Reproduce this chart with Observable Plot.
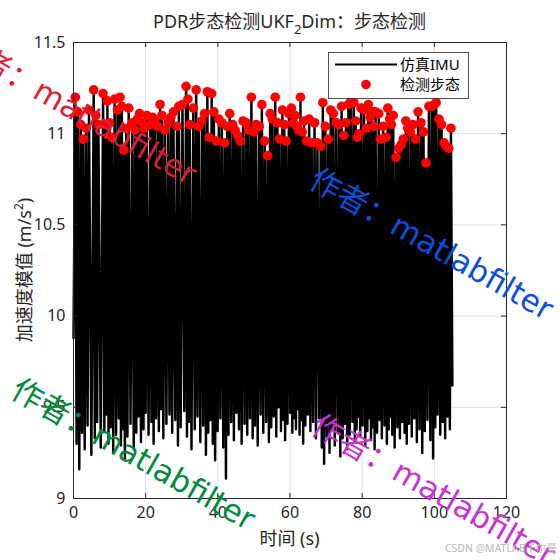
<!DOCTYPE html>
<html><head><meta charset="utf-8">
<script src="https://cdn.jsdelivr.net/npm/d3@7"></script>
<script src="https://cdn.jsdelivr.net/npm/@observablehq/plot@0.6"></script>
<style>body{margin:0;background:#fff}#chart{width:560px;height:560px}</style>
</head><body><div id="chart"></div>
<script>
// detected steps (peak time, peak acceleration magnitude)
const stepTime = [0.5,1.2,2.0,2.7,3.5,4.3,5.6,6.2,6.9,8.2,
8.9,9.4,10.0,10.6,11.4,12.2,12.9,13.4,13.9,14.6,
15.3,16.3,17.1,17.7,18.3,19.1,19.7,20.3,21.3,21.9,
22.5,23.3,24.0,24.5,25.3,26.2,27.0,27.7,28.7,29.2,
30.2,31.2,31.7,32.2,33.2,34.0,34.7,35.6,36.3,37.1,
37.6,38.3,38.9,39.6,40.3,41.1,41.9,42.6,43.3,44.1,
44.8,45.5,46.2,47.0,47.8,48.5,49.3,50.0,50.6,51.5,
52.2,53.0,53.8,54.5,55.1,55.9,56.5,57.1,57.9,58.4,
58.9,59.7,60.4,60.9,61.4,61.9,62.4,62.9,63.4,63.9,
64.6,65.3,66.0,66.8,67.6,68.5,69.1,69.8,70.6,71.3,
72.0,72.8,73.6,74.3,74.9,75.5,76.2,76.9,77.7,78.2,
78.7,79.2,79.7,80.5,81.2,81.7,82.2,82.7,83.2,83.7,
84.6,85.1,85.8,86.6,87.1,87.6,88.1,88.6,89.4,90.1,
90.8,91.4,92.1,92.6,93.4,94.1,94.8,95.5,96.3,97.0,
97.7,98.5,99.3,100.0,100.5,101.3,102.0,102.7,103.3,104.0,
104.6];
const stepPeak = [11.20,11.12,11.05,10.97,11.03,11.13,11.24,11.10,11.05,11.22,
11.05,11.18,11.06,10.98,11.19,11.13,11.20,11.15,10.91,11.03,
11.14,11.06,11.02,11.08,11.11,11.06,11.03,11.10,11.05,11.09,
11.07,11.04,11.16,11.10,11.02,11.06,11.09,11.12,11.04,11.15,
11.16,11.26,11.19,11.05,11.14,11.24,11.04,11.07,11.11,11.23,
10.98,11.22,11.12,10.96,11.08,11.06,10.95,11.04,11.11,11.05,
11.02,10.99,10.96,11.07,11.06,11.02,11.20,11.01,11.05,11.04,
11.16,10.96,10.88,11.11,11.08,11.20,11.06,10.97,11.13,11.05,
10.96,11.11,11.14,11.06,11.10,11.04,11.02,11.20,11.01,11.07,
10.96,11.08,10.95,11.06,10.95,10.93,11.17,11.04,10.97,11.13,
11.11,11.06,11.05,11.15,10.99,11.06,11.16,11.18,11.17,11.07,
10.98,11.00,11.14,11.13,11.03,11.16,11.09,11.12,11.04,11.12,
11.11,10.97,11.04,10.98,11.14,11.08,11.05,11.10,10.87,10.92,
10.94,10.97,11.07,11.03,11.01,11.05,10.97,11.12,11.06,11.01,
10.84,11.15,11.15,11.16,11.17,11.08,11.05,10.95,10.93,10.92,
11.03];
// simulated IMU troughs between steps
const troughTime = [0.0,0.85,1.6,2.35,3.1,3.9,4.95,5.9,6.55,7.55,
8.55,9.15,9.7,10.3,11.0,11.8,12.55,13.15,13.65,14.25,
14.95,15.8,16.7,17.4,18.0,18.7,19.4,20.0,20.8,21.6,
22.2,22.9,23.65,24.25,24.9,25.75,26.6,27.35,28.2,28.95,
29.7,30.7,31.45,31.95,32.7,33.6,34.35,35.15,35.95,36.7,
37.35,37.95,38.6,39.25,39.95,40.7,41.5,42.25,42.95,43.7,
44.45,45.15,45.85,46.6,47.4,48.15,48.9,49.65,50.3,51.05,
51.85,52.6,53.4,54.15,54.8,55.5,56.2,56.8,57.5,58.15,
58.65,59.3,60.05,60.65,61.15,61.65,62.15,62.65,63.15,63.65,
64.25,64.95,65.65,66.4,67.2,68.05,68.8,69.45,70.2,70.95,
71.65,72.4,73.2,73.95,74.6,75.2,75.85,76.55,77.3,77.95,
78.45,78.95,79.45,80.1,80.85,81.45,81.95,82.45,82.95,83.45,
84.15,84.85,85.45,86.2,86.85,87.35,87.85,88.35,89.0,89.75,
90.45,91.1,91.75,92.35,93.0,93.75,94.45,95.15,95.9,96.65,
97.35,98.1,98.9,99.65,100.25,100.9,101.65,102.35,103.0,103.65,
104.3,105.0];
const troughValue = [9.88,9.30,9.16,9.36,9.27,9.40,9.24,9.33,9.42,9.28,
9.37,9.46,9.30,9.39,9.25,9.35,9.44,9.29,9.38,9.22,
9.34,9.41,9.27,9.36,9.45,9.31,9.38,9.47,9.35,9.42,
9.30,9.44,9.37,9.49,9.33,9.41,9.46,9.36,9.43,9.29,
9.39,9.48,9.34,9.42,9.27,9.38,9.45,9.31,9.40,9.24,
9.36,9.43,9.30,9.21,9.37,9.44,9.28,9.11,9.35,9.42,
9.32,9.47,9.38,9.30,9.41,9.35,9.44,9.33,9.40,9.29,
9.46,9.36,9.42,9.31,9.39,9.45,9.34,9.50,9.37,9.43,
9.32,9.41,9.47,9.36,9.44,9.38,9.49,9.35,9.43,9.30,
9.40,9.46,9.37,9.42,9.33,9.44,9.28,9.19,9.34,9.25,
9.38,9.29,9.36,9.23,9.33,9.41,9.27,9.35,9.42,9.31,
9.38,9.45,9.34,9.40,9.29,9.37,9.44,9.32,9.39,9.27,
9.36,9.43,9.33,9.40,9.30,9.38,9.45,9.35,9.28,9.39,
9.33,9.42,9.36,9.30,9.41,9.34,9.44,9.31,9.38,9.25,
9.37,9.43,9.32,9.22,9.39,9.46,9.35,9.42,9.33,9.45,
9.38,9.62];
const xTicks = [0,20,40,60,80,100,120];
const yTicks = [9,9.5,10,10.5,11,11.5];
const titleMain = "PDR步态检测UKF", titleSub = "2", titleRest = "Dim：步态检测";
const xLabel = "时间 (s)";
const yLabelMain = "加速度模值 (m/s", yLabelSup = "2", yLabelEnd = ")";
const legendLine = "仿真IMU", legendDot = "检测步态";
const watermark = "作者：matlabfilter";
const credit = "CSDN @MATLAB卡尔曼";

const steps = stepTime.map((t, i) => ({t, v: stepPeak[i]}));
const imu = steps.concat(troughTime.map((t, i) => ({t, v: troughValue[i]}))).sort((a, b) => a.t - b.t);

const W = 560, H = 560, mL = 73, mR = 54, mT = 42, mB = 62;
const fw = W - mL - mR, fh = H - mT - mB;
const font = "'Noto Sans','Noto Sans CJK SC',sans-serif";
const wmFont = "'DejaVu Sans','Noto Sans CJK SC',sans-serif";
const ink = "#262626";

const plot = Plot.plot({
  width: W, height: H, marginLeft: mL, marginRight: mR, marginTop: mT, marginBottom: mB,
  x: {domain: [0, 120]}, y: {domain: [9, 11.5]},
  style: {fontFamily: font, color: ink, background: "#fff"},
  marks: [
    Plot.ruleX(xTicks.slice(1, -1), {x: d => d, stroke: "#dedede", strokeWidth: 1}),
    Plot.ruleY(yTicks.slice(1, -1), {y: d => d, stroke: "#dedede", strokeWidth: 1}),
    Plot.line(imu, {x: "t", y: "v", stroke: "#000", strokeWidth: 2.45, strokeLinejoin: "round"}),
    Plot.dot(steps, {x: "t", y: "v", r: 4.8, fill: "#ff0000", stroke: "none"}),
    Plot.frame({stroke: ink, strokeWidth: 1}),
    Plot.ruleX(xTicks, {x: d => d, insetTop: fh - 5, stroke: ink}),
    Plot.ruleX(xTicks, {x: d => d, insetBottom: fh - 5, stroke: ink}),
    Plot.ruleY(yTicks, {y: d => d, insetRight: fw - 5, stroke: ink}),
    Plot.ruleY(yTicks, {y: d => d, insetLeft: fw - 5, stroke: ink}),
    Plot.axisX(xTicks, {tickSize: 0, tickPadding: 8, fontSize: 16, label: null, fill: ink}),
    Plot.axisY(yTicks, {tickSize: 0, tickPadding: 8, fontSize: 16, label: null, fill: ink, tickFormat: d => String(d)})
  ]
});
document.getElementById("chart").appendChild(plot);

const svg = d3.select(plot);
// title
const tt = svg.append("text").attr("x", mL + fw / 2).attr("y", 28).attr("text-anchor", "middle")
  .attr("font-size", 18).attr("fill", ink).attr("font-family", font);
tt.append("tspan").text(titleMain);
tt.append("tspan").attr("font-size", 13).attr("dy", 6).text(titleSub);
tt.append("tspan").attr("dy", -6).text(titleRest);
// axis labels
svg.append("text").attr("x", mL + fw / 2).attr("y", 545).attr("text-anchor", "middle")
  .attr("font-size", 18).attr("fill", ink).attr("font-family", font).text(xLabel);
const yl = svg.append("text").attr("transform", `translate(31,${mT + fh / 2}) rotate(-90)`)
  .attr("text-anchor", "middle").attr("font-size", 18).attr("fill", ink).attr("font-family", font);
yl.append("tspan").text(yLabelMain);
yl.append("tspan").attr("font-size", 12).attr("dy", -8).text(yLabelSup);
yl.append("tspan").attr("dy", 8).text(yLabelEnd);
// legend
const lg = svg.append("g").attr("font-family", font).attr("font-size", 15).attr("fill", "#000").attr("text-anchor", "start");
lg.append("rect").attr("x", 328.5).attr("y", 52.5).attr("width", 140).attr("height", 46)
  .attr("fill", "#fff").attr("stroke", ink).attr("stroke-width", 0.8);
lg.append("line").attr("x1", 335).attr("x2", 397).attr("y1", 64.5).attr("y2", 64.5)
  .attr("stroke", "#000").attr("stroke-width", 2);
lg.append("circle").attr("cx", 366).attr("cy", 84.5).attr("r", 4.8).attr("fill", "#ff0000");
lg.append("text").attr("x", 400).attr("y", 64.5).attr("dy", "0.36em").attr("text-anchor", "start").text(legendLine);
lg.append("text").attr("x", 400).attr("y", 84.5).attr("dy", "0.36em").attr("text-anchor", "start").text(legendDot);
// watermarks
const marks = [
  {x: -50, y: 51, c: "#dc1e32"},
  {x: 307, y: 186, c: "#0a50dc"},
  {x: 9, y: 396, c: "#008a3c"},
  {x: 309, y: 432, c: "#c832d2"}
];
for (const m of marks) {
  svg.append("text").attr("transform", `translate(${m.x},${m.y}) rotate(29.5)`)
    .attr("text-anchor", "start").attr("font-size", 31).attr("font-family", wmFont)
    .attr("fill", m.c).text(watermark);
}
svg.append("text").attr("x", 557).attr("y", 552).attr("text-anchor", "end")
  .attr("font-size", 10.5).attr("font-family", font).attr("fill", "#b9b9b9").text(credit);
</script></body></html>
